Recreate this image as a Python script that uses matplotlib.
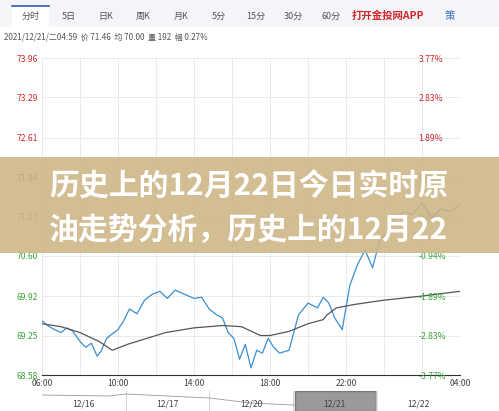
import matplotlib
matplotlib.use("Agg")
import matplotlib.pyplot as plt
from matplotlib.patches import Rectangle

plt.rcParams['font.family'] = ['Noto Sans CJK SC', 'DejaVu Sans']

# hours since 06:00, price
price_t = [0, 0.3, 0.6, 1.0, 1.3, 1.6, 2.0, 2.3, 2.6, 2.9, 3.1, 3.4, 3.7, 4.0, 4.3, 4.6, 5.0,
           5.4, 5.8, 6.2, 6.6, 7.0, 7.5, 8.0, 8.4, 8.8, 9.2, 9.5, 9.8, 10.1, 10.4, 10.7, 11.0,
           11.3, 11.6, 11.9, 12.2, 12.5, 13.0, 13.5, 14.0, 14.5, 14.8, 15.1, 15.4, 15.8, 16.2,
           16.6, 17.0, 17.4, 17.8, 18.2, 18.6, 19.0, 19.5, 20.0, 20.5, 21.0, 21.5, 22.0]
price_v = [69.50, 69.42, 69.36, 69.30, 69.38, 69.33, 69.15, 69.05, 69.12, 68.90, 68.98, 69.20,
           69.28, 69.35, 69.50, 69.70, 69.62, 69.85, 69.95, 70.00, 69.88, 70.02, 69.95, 69.88,
           69.90, 69.70, 69.60, 69.55, 69.30, 69.20, 68.85, 69.10, 68.70, 69.00, 68.95, 69.20,
           69.05, 68.95, 69.00, 69.60, 69.80, 69.72, 69.90, 69.80, 69.55, 69.35, 70.10, 70.45,
           70.70, 70.40, 70.90, 71.00, 71.25, 71.35, 71.30, 71.50, 71.25, 71.40, 71.35, 71.48]
avg_t = [0, 1.0, 2.0, 3.0, 3.7, 4.5, 5.5, 6.5, 8.0, 9.5, 10.5, 11.5, 12.0, 13.0, 14.0, 14.8,
         15.0, 15.5, 16.5, 18.0, 20.0, 22.0]
avg_v = [69.45, 69.40, 69.30, 69.15, 69.00, 69.10, 69.20, 69.30, 69.38, 69.42, 69.40, 69.25,
         69.25, 69.32, 69.45, 69.52, 69.60, 69.72, 69.78, 69.85, 69.92, 70.00]

yticks = [73.96, 73.29, 72.61, 71.94, 71.27, 70.60, 69.92, 69.25, 68.58]
pct_labels = ["3.77%", "2.83%", "1.89%", "0.94%", "0.00%", "-0.94%", "-1.89%", "-2.83%", "-3.77%"]
xticks = [0, 4, 8, 12, 16, 22]
xlabels = ["06:00", "10:00", "14:00", "18:00", "22:00", "04:00"]
tabs = ["分时", "5日", "日K", "周K", "月K", "5分", "15分", "30分", "60分"]
days = ["12/16", "12/17", "12/20", "12/21", "12/22"]

fig = plt.figure(figsize=(4.99, 4.11), dpi=100)
W, H = 499, 411

def fx(px):
    return px / W

def fy(py):
    return 1 - py / H

# top nav bar
fig.patches.append(Rectangle((0, fy(27)), 1, 27 / H, transform=fig.transFigure,
                             facecolor="#f3f5f8", edgecolor="none"))
fig.patches.append(Rectangle((fx(12), fy(27)), fx(37), 21 / H, transform=fig.transFigure,
                             facecolor="white", edgecolor="none"))
fig.lines.append(plt.Line2D([fx(12), fx(49)], [fy(6), fy(6)], transform=fig.transFigure,
                            color="#2a5db0", lw=1.2))
for i, t in enumerate(tabs):
    fig.text(fx(31 + i * 37.5), fy(16), t, fontsize=6.5, color="#555555", ha="center", va="center")
fig.text(fx(388), fy(16), "打开金投网APP", fontsize=7.5, color="#d0262c", ha="center",
         va="center", weight="bold")
fig.text(fx(450), fy(16), "策", fontsize=7.5, color="#3a6fc0", ha="center", va="center")
fig.text(fx(4), fy(37), "2021/12/21/二04:59  价 71.46  均 70.00  量 192  幅 0.27%",
         fontsize=5.8, color="#555555", va="center")

ax = fig.add_axes([fx(42), fy(375), fx(418), 317 / H])
ax.plot(price_t, price_v, color="#3a8fd0", lw=0.9)
ax.plot(avg_t, avg_v, color="#555555", lw=0.9)
ax.set_xlim(0, 22)
ax.set_ylim(68.58, 73.96)
ax.set_yticks(yticks)
ax.set_xticks(xticks)
ax.set_xticklabels(xlabels, fontsize=6.2, color="#444444")
ax.set_xticks(range(0, 23, 2), minor=True)
ax.grid(True, which="both", color="#e6e6e6", lw=0.6)
ax.tick_params(length=0, pad=3)
ax.tick_params(which="minor", length=0)
ycols = ["#d0262c"] * 4 + ["#888888"] + ["#3aa53a"] * 4
ax.set_yticklabels([f"{v:.2f}" for v in yticks], fontsize=6.2)
for lab, c in zip(ax.get_yticklabels(), ycols):
    lab.set_color(c)
ax2 = ax.twinx()
ax2.set_ylim(68.58, 73.96)
ax2.set_yticks(yticks)
ax2.set_yticklabels(pct_labels, fontsize=6.2)
for lab, c in zip(ax2.get_yticklabels(), ycols):
    lab.set_color(c)
ax2.tick_params(length=0, pad=-30)
for a in (ax, ax2):
    for s in a.spines.values():
        s.set_visible(False)
ax.spines["bottom"].set_visible(True)
ax.spines["bottom"].set_color("#333333")

# navigator strip
nav = fig.add_axes([fx(42), 0, fx(418), 20 / H])
nav.set_xlim(0, 5)
nav.set_ylim(0, 1)
nav.axis("off")
nav.add_patch(Rectangle((3.03, 0), 0.97, 1, facecolor="#9a9a9a", edgecolor="#777777"))
for i, d in enumerate(days):
    nav.text(i + 0.5, 0.35, d, fontsize=6.2, color="#444444", ha="center", va="center")
    if i:
        nav.axvline(i, color="#cccccc", lw=0.6)
nav.plot([0, 0.8, 1.0, 2.0, 2.5, 3.0, 3.5, 4.0], [0.8, 0.75, 0.85, 0.65, 0.4, 0.3, 0.6, 0.7],
         color="#999999", lw=0.6)

# banner overlay
fig.patches.append(Rectangle((0, fy(253)), 1, 96 / H, transform=fig.transFigure,
                             facecolor="#cdb585", alpha=0.88, edgecolor="none", zorder=10))
fig.text(fx(49), fy(186), "历史上的12月22日今日实时原", fontsize=21.5, color="white",
         weight="bold", va="center", zorder=11)
fig.text(fx(49), fy(230), "油走势分析，历史上的12月22", fontsize=21.5, color="white",
         weight="bold", va="center", zorder=11)

fig.savefig("out.png", dpi=100)
